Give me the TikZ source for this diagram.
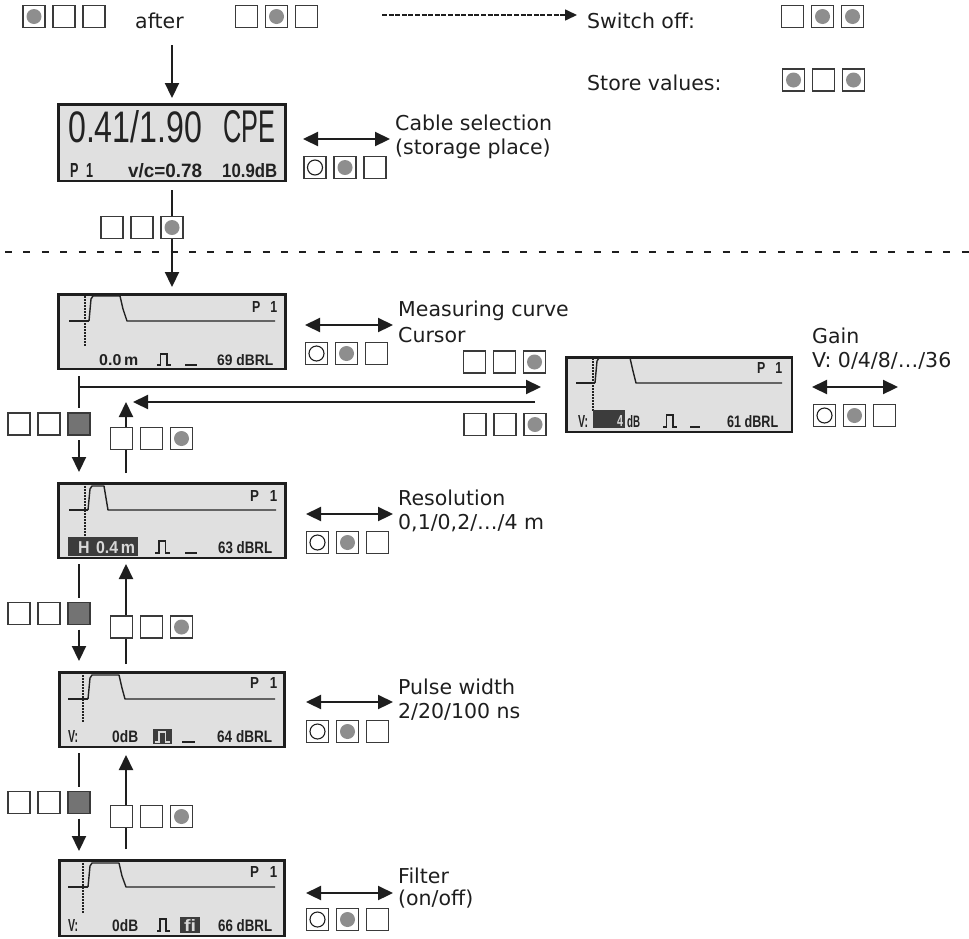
\documentclass[tikz,border=0pt]{standalone}
\usepackage{fontspec}
\usepackage{graphicx}
\setmainfont{DejaVu Sans}
\newfontfamily\lcdfont{Liberation Sans}
\usetikzlibrary{arrows.meta}
\pgfdeclarelayer{bg}
\pgfsetlayers{bg,main}
\definecolor{ink}{HTML}{1E1E1E}
\definecolor{lcdbg}{HTML}{E0E0E0}
\definecolor{lcdink}{HTML}{222222}
\definecolor{dotgrey}{HTML}{8E8E8E}
\definecolor{keydark}{HTML}{737373}
\definecolor{keyline}{HTML}{3A3A3A}
\definecolor{invbg}{HTML}{3C3C3C}
\definecolor{invtx}{HTML}{D8D8D8}
\tikzset{
 key/.style={draw=keyline, line width=1.3pt, fill=white, minimum size=22pt, inner sep=0pt, outer sep=0pt},
 keyE/.style={},
 keyD/.style={path picture={\fill[dotgrey] (path picture bounding box.center) circle (7.5pt);}},
 keyC/.style={path picture={\draw[ink,line width=1.1pt] (path picture bounding box.center) circle (7.5pt);}},
 keyF/.style={fill=keydark},
 lcd/.style={draw=ink, line width=2.5pt, fill=lcdbg, minimum width=227pt, minimum height=74.5pt, inner sep=0pt},
 lab/.style={anchor=base west, inner sep=0pt, text=ink, font=\fontsize{20.5}{24.6}\selectfont},
 arr/.style={draw=ink, line width=2.2pt, -{Triangle[length=15pt,width=14pt]}},
 conn/.style={draw=ink, line width=2.2pt},
 darr/.style={draw=ink, line width=2.2pt, {Triangle[length=15pt,width=14pt]}-{Triangle[length=15pt,width=14pt]}},
 dasharr/.style={draw=ink, line width=1.6pt, dash pattern=on 5pt off 1.6pt, -{Triangle[length=12pt,width=11pt]}},
 sepline/.style={draw=ink, line width=2pt, dash pattern=on 7pt off 11.4pt},
 curveline/.style={draw=lcdink, line width=1.4pt, line join=round},
 thickseg/.style={draw=lcdink, line width=2.8pt},
 cursorline/.style={draw=lcdink, line width=1.2pt, dash pattern=on 1.5pt off 1.5pt},
 lcdbar/.style={draw=lcdink, line width=1.6pt},
 lcdtxt/.style={anchor=base west, inner sep=0pt, text=lcdink},
}
\newcommand\trip[6]{%
  \node[key,#4] (#1a) at (#2,#3) {};
  \node[key,#5] (#1b) at ({#2+30},#3) {};
  \node[key,#6] (#1c) at ({#2+60},#3) {};}
% LCD text, bold small characters
\newcommand\lcdt[6]{\node[lcdtxt] (#1) at (#2,#3) {\resizebox{#4pt}{#5pt}{\lcdfont\bfseries #6}};}
% LCD text, regular large characters
\newcommand\lcdbig[6]{\node[lcdtxt] (#1) at (#2,#3) {\resizebox{#4pt}{#5pt}{\lcdfont #6}};}
\newcommand\pulsesym[5][lcdink]{\draw[#1, line width=1.6pt, line join=miter] (#2,#3) -- ++(0.25*#4,0) -- ++(0,-#5) -- ++(0.45*#4,0) -- ++(0,#5) -- ++(0.3*#4,0);}
\begin{document}
\begin{tikzpicture}[x=1pt,y=-1pt]
\useasboundingbox (0,0) rectangle (969,938);

% ---------- LCD panels
\node[lcd, minimum height=76.5pt] (lcd1) at (172,142.5) {};
\node[lcd] (lcd2) at (172,331.5) {};
\node[lcd] (lcd3) at (172,520.5) {};
\node[lcd, minimum width=225pt] (lcd4) at (172,709.5) {};
\node[lcd, minimum width=225pt, minimum height=75.5pt] (lcd5) at (172,898) {};
\node[lcd, minimum width=225.5pt] (lcdg) at (679,394.5) {};

% LCD1 content
\lcdbig{t1a}{68}{142}{134}{32}{0.41/1.90}
\lcdbig{t1b}{223}{142}{52}{32}{CPE}
\lcdt{t1c}{70}{177}{23}{14}{P\hspace{0.6em}1}
\lcdt{t1d}{128}{177}{74}{14}{v/c=0.78}
\lcdt{t1e}{222}{177}{55}{14}{10.9dB}

% LCD2 content
\draw[thickseg] (69,321) -- (89,321);
\draw[curveline] (89,321) -- (91,299) -- (93,296) -- (120,296) -- (123,309) -- (127,321) -- (275,321);
\draw[cursorline] (85,296) -- (85,347);
\lcdt{t2a}{252}{312}{25}{11}{P\hspace{0.8em}1}
\lcdt{t2b}{99}{365}{39}{11}{0.0\,m}
\pulsesym{157}{365}{14}{11}
\draw[lcdbar] (185,365) -- (197,365);
\lcdt{t2c}{217}{365}{56}{11}{69 dBRL}

% LCD3 content
\draw[thickseg] (69,510) -- (88,510);
\draw[curveline] (88,510) -- (90,489) -- (92,486) -- (104,486) -- (106,498) -- (108,510) -- (276,510);
\draw[cursorline] (85,486) -- (85,537);
\lcdt{t3a}{250}{501}{27}{11}{P\hspace{0.8em}1}
\fill[invbg] (68,537) rectangle (138,556);
\node[lcdtxt, text=invtx] (t3b) at (78,553) {\resizebox{57pt}{12pt}{\lcdfont\bfseries H\hspace{0.4em}0.4\,m}};
\pulsesym{155}{553}{15}{12}
\draw[lcdbar] (185,553) -- (197,553);
\lcdt{t3c}{218}{553}{54}{12}{63 dBRL}

% LCD4 content
\draw[thickseg] (68,699) -- (88,699);
\draw[curveline] (88,699) -- (90,678) -- (92,675) -- (119,675) -- (122,688) -- (125,699) -- (275,699);
\draw[cursorline] (83,675) -- (83,723);
\lcdt{t4a}{250}{688}{27}{11}{P\hspace{0.8em}1}
\lcdt{t4b}{68}{742}{10}{12}{V:}
\lcdt{t4c}{112}{742}{26}{12}{0dB}
\fill[invbg] (153,729) rectangle (172,744);
\pulsesym[invtx]{155}{742}{15}{10}
\draw[lcdbar] (182,742) -- (195,742);
\lcdt{t4d}{217}{742}{55}{12}{64 dBRL}

% LCD5 content
\draw[thickseg] (68,887) -- (88,887);
\draw[curveline] (88,887) -- (90,866) -- (92,863) -- (119,863) -- (122,876) -- (126,887) -- (275,887);
\draw[cursorline] (83,863) -- (83,913);
\lcdt{t5a}{250}{877}{27}{11}{P\hspace{0.8em}1}
\lcdt{t5b}{68}{931}{10}{12}{V:}
\lcdt{t5c}{112}{931}{26}{12}{0dB}
\pulsesym{157}{931}{13}{12}
\fill[invbg] (180,917) rectangle (200,933);
\node[lcdtxt,text=invtx] (t5d) at (184,931) {\resizebox{12pt}{12pt}{\lcdfont\bfseries fi}};
\lcdt{t5e}{218}{931}{54}{12}{66 dBRL}

% Gain LCD content
\draw[thickseg] (576,383) -- (595,383);
\draw[curveline] (595,383) -- (597,361) -- (599,358) -- (630,358) -- (633,371) -- (636,383) -- (782,383);
\draw[cursorline] (593,358) -- (593,411);
\lcdt{tga}{757}{373}{25}{11}{P\hspace{0.8em}1}
\lcdt{tgb}{578}{427}{10}{12}{V:}
\fill[invbg] (593,410) rectangle (625,428);
\node[lcdtxt,text=invtx] (tgc) at (617,426) {\resizebox{6pt}{11pt}{\lcdfont\bfseries 4}};
\lcdt{tgd}{627}{427}{13}{12}{dB}
\pulsesym{663}{427}{14}{12}
\draw[lcdbar] (690,427) -- (700,427);
\lcdt{tge}{727}{427}{51}{12}{61 dBRL}

% ---------- key triplets
\trip{k0}{34}{16.5}{keyD}{keyE}{keyE}
\trip{k1}{246.5}{16.5}{keyE}{keyD}{keyE}
\trip{ksw}{792.5}{16.5}{keyE}{keyD}{keyD}
\trip{kst}{793.5}{80}{keyD}{keyE}{keyD}
\trip{kcab}{315}{167.5}{keyC}{keyD}{keyE}
\trip{kl1}{112}{227.5}{keyE}{keyE}{keyD}
\trip{kme}{316.5}{353.5}{keyC}{keyD}{keyE}
\trip{kgu}{474.5}{362}{keyE}{keyE}{keyD}
\trip{kgd}{475}{424.5}{keyE}{keyE}{keyD}
\trip{kga}{824.5}{415.5}{keyC}{keyD}{keyE}
\trip{kd1}{19}{424}{keyE}{keyE}{keyF}
\trip{ku1}{121.5}{438.5}{keyE}{keyE}{keyD}
\trip{kre}{317.5}{542.5}{keyC}{keyD}{keyE}
\trip{kd2}{19}{613.5}{keyE}{keyE}{keyF}
\trip{ku2}{121.5}{627}{keyE}{keyE}{keyD}
\trip{kpw}{317.5}{731.5}{keyC}{keyD}{keyE}
\trip{kd3}{19}{802.5}{keyE}{keyE}{keyF}
\trip{ku3}{121.5}{816.5}{keyE}{keyE}{keyD}
\trip{kfi}{317.5}{919.5}{keyC}{keyD}{keyE}

% ---------- labels
\node[lab] (after) at (135,28) {after};
\node[lab] (swoff) at (587,28) {Switch off:};
\node[lab] (store) at (587,90) {Store values:};
\node[lab] (cab1) at (395,130) {Cable selection};
\node[lab] (cab2) at (395,154) {(storage place)};
\node[lab] (mc1) at (398,316) {Measuring curve};
\node[lab] (mc2) at (398,342) {Cursor};
\node[lab] (ga1) at (812,343) {Gain};
\node[lab] (ga2) at (812,367) {V: 0/4/8/…/36};
\node[lab] (re1) at (398,505) {Resolution};
\node[lab] (re2) at (398,529) {0,1/0,2/…/4 m};
\node[lab] (pw1) at (398,694) {Pulse width};
\node[lab] (pw2) at (398,718) {2/20/100 ns};
\node[lab] (fi1) at (398,883) {Filter};
\node[lab] (fi2) at (398,905) {(on/off)};

% ---------- connectors
\coordinate (sepL) at (5,252);
\coordinate (sepR) at (969,252);
\coordinate (s0) at (172,45);
\coordinate (d0) at (382,15);
\coordinate (d1) at (587,15);
\coordinate (r0) at (535,402);
\coordinate (r1) at (126,402);
\coordinate (jy) at (0,387);
\coordinate (j1) at (kd1c |- jy);
\coordinate (ca0) at (303,139);  \coordinate (ca1) at (390,139);
\coordinate (me0) at (305,325);  \coordinate (me1) at (393,325);
\coordinate (ga0) at (812,387);  \coordinate (ga1e) at (898,387);
\coordinate (re0) at (306,514);  \coordinate (re1e) at (393,514);
\coordinate (pw0) at (306,702);  \coordinate (pw1e) at (393,702);
\coordinate (fi0) at (306,893);  \coordinate (fi1e) at (393,893);

\begin{pgfonlayer}{bg}
\draw[sepline] (sepL) -- (sepR);
\draw[arr, shorten >=5pt] (s0) -- (lcd1.north);
\draw[dasharr, shorten >=10pt] (d0) -- (d1);
\draw[arr, shorten <=8pt, shorten >=6pt] (lcd1.south) -- (lcd2.north);
% down chain
\draw[conn, shorten <=6pt, shorten >=5pt] (lcd2.south -| kd1c) -- (kd1c.north);
\draw[arr, shorten <=5pt, shorten >=10pt] (kd1c.south) -- (lcd3.north -| kd1c);
\draw[conn, shorten <=5pt, shorten >=5pt] (lcd3.south -| kd2c) -- (kd2c.north);
\draw[arr, shorten <=5pt, shorten >=10pt] (kd2c.south) -- (lcd4.north -| kd2c);
\draw[conn, shorten <=5pt, shorten >=5pt] (lcd4.south -| kd3c) -- (kd3c.north);
\draw[arr, shorten <=5pt, shorten >=8pt] (kd3c.south) -- (lcd5.north -| kd3c);
% up chain
\draw[arr, shorten <=9pt] (lcd3.north -| r1) -- (r1);
\draw[arr, shorten <=7pt, shorten >=5pt] (lcd4.north -| r1) -- (lcd3.south -| r1);
\draw[arr, shorten <=10pt, shorten >=7pt] (lcd5.north -| r1) -- (lcd4.south -| r1);
% to and from gain
\draw[arr, shorten >=24pt] (j1) -- (j1 -| lcdg.west);
\draw[arr, shorten >=7pt] (r0) -- (r1);
% double arrows
\draw[darr] (ca0) -- (ca1);
\draw[darr] (me0) -- (me1);
\draw[darr] (ga0) -- (ga1e);
\draw[darr] (re0) -- (re1e);
\draw[darr] (pw0) -- (pw1e);
\draw[darr] (fi0) -- (fi1e);
\end{pgfonlayer}
\end{tikzpicture}
\end{document}
